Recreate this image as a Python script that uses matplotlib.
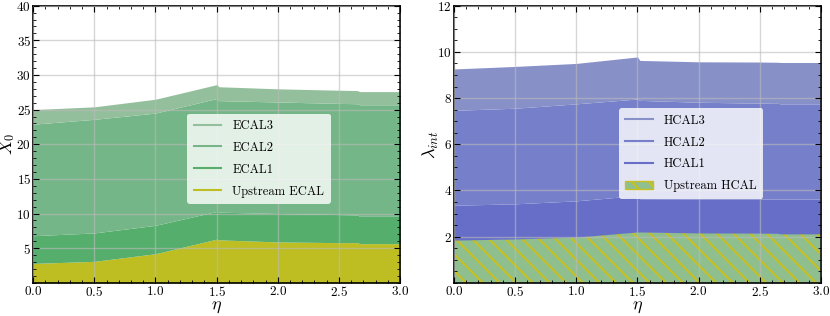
import matplotlib
matplotlib.use('Agg')
import matplotlib.pyplot as plt
from matplotlib.lines import Line2D
from matplotlib.patches import Patch
from matplotlib.ticker import MultipleLocator

plt.rcParams['font.family'] = 'serif'
plt.rcParams['font.serif'] = ['cmr10']
plt.rcParams['mathtext.fontset'] = 'cm'
plt.rcParams['axes.formatter.use_mathtext'] = True
plt.rcParams['hatch.linewidth'] = 1.5

# eta points
eta = [0.0, 0.5, 1.0, 1.5, 1.52, 2.0, 2.5, 2.65, 2.67, 3.0]

# ECAL, cumulative X0 (top of each layer)
upstream_ecal = [2.8, 3.1, 4.2, 6.3, 6.2, 5.9, 5.8, 5.8, 5.65, 5.65]
ecal1 = [6.8, 7.2, 8.3, 10.3, 10.2, 10.0, 9.85, 9.8, 9.6, 9.6]
ecal2 = [22.9, 23.6, 24.5, 26.6, 26.3, 26.1, 25.9, 25.85, 25.7, 25.7]
ecal3 = [25.0, 25.4, 26.5, 28.6, 28.3, 28.0, 27.8, 27.75, 27.6, 27.6]

# HCAL, cumulative lambda_int
upstream_hcal = [1.85, 1.9, 1.98, 2.2, 2.2, 2.16, 2.15, 2.14, 2.12, 2.12]
hcal1 = [3.36, 3.42, 3.55, 3.78, 3.64, 3.63, 3.63, 3.63, 3.63, 3.63]
hcal2 = [7.47, 7.56, 7.75, 7.96, 7.9, 7.82, 7.78, 7.77, 7.75, 7.75]
hcal3 = [9.26, 9.37, 9.5, 9.78, 9.63, 9.57, 9.56, 9.55, 9.54, 9.54]

c_up_ecal = '#bebe22'
c_ecal = ['#55ae6c', '#75b688', '#94bf9c']
c_hcal = ['#666ec8', '#7680ca', '#8890c8']
c_up_hcal = '#8fbf8f'

fig = plt.figure(figsize=(8.3, 3.16), dpi=100)
ax1 = fig.add_axes([0.040, 0.105, 0.442, 0.877])
ax2 = fig.add_axes([0.547, 0.105, 0.442, 0.877])

leg_kw = dict(loc='center left', fontsize=9, framealpha=0.8, edgecolor='none',
              fancybox=True, labelspacing=0.78, handlelength=2.2,
              handletextpad=0.9, borderpad=0.5, borderaxespad=0)

# left: ECAL
ax1.fill_between(eta, 0, upstream_ecal, color=c_up_ecal, lw=0)
ax1.fill_between(eta, upstream_ecal, ecal1, color=c_ecal[0], lw=0)
ax1.fill_between(eta, ecal1, ecal2, color=c_ecal[1], lw=0)
ax1.fill_between(eta, ecal2, ecal3, color=c_ecal[2], lw=0)
ax1.set_xlim(0, 3)
ax1.set_ylim(0, 40)
ax1.set_yticks([5, 10, 15, 20, 25, 30, 35, 40])
ax1.yaxis.set_minor_locator(MultipleLocator(1))
ax1.set_ylabel(r'$X_0$', fontsize=12.5)
ax1.yaxis.set_label_coords(-0.043, 0.5)
handles1 = [Line2D([], [], color=c_ecal[2], lw=1.5, label='ECAL3'),
            Line2D([], [], color=c_ecal[1], lw=1.5, label='ECAL2'),
            Line2D([], [], color=c_ecal[0], lw=1.5, label='ECAL1'),
            Line2D([], [], color=c_up_ecal, lw=1.5, label='Upstream ECAL')]
ax1.legend(handles=handles1, bbox_to_anchor=(0.42, 0.448), **leg_kw)

# right: HCAL
ax2.fill_between(eta, 0, upstream_hcal, facecolor=c_up_hcal, edgecolor='#c8c020',
                 hatch='\\\\', lw=0)
ax2.fill_between(eta, upstream_hcal, hcal1, color=c_hcal[0], lw=0)
ax2.fill_between(eta, hcal1, hcal2, color=c_hcal[1], lw=0)
ax2.fill_between(eta, hcal2, hcal3, color=c_hcal[2], lw=0)
ax2.set_xlim(0, 3)
ax2.set_ylim(0, 12)
ax2.set_yticks([2, 4, 6, 8, 10, 12])
ax2.yaxis.set_minor_locator(MultipleLocator(0.5))
ax2.set_ylabel(r'$\lambda_{int}$', fontsize=13)
ax2.yaxis.set_label_coords(-0.036, 0.5)
handles2 = [Line2D([], [], color=c_hcal[2], lw=1.5, label='HCAL3'),
            Line2D([], [], color=c_hcal[1], lw=1.5, label='HCAL2'),
            Line2D([], [], color=c_hcal[0], lw=1.5, label='HCAL1'),
            Patch(facecolor=c_up_hcal, edgecolor='#c8c020', hatch='\\\\',
                  label='Upstream HCAL')]
ax2.legend(handles=handles2, bbox_to_anchor=(0.45, 0.467), **leg_kw)

for ax in (ax1, ax2):
    ax.set_xticks([0.0, 0.5, 1.0, 1.5, 2.0, 2.5, 3.0])
    ax.xaxis.set_minor_locator(MultipleLocator(0.1))
    ax.set_xlabel(r'$\eta$', fontsize=13)
    ax.xaxis.set_label_coords(0.5, -0.06)
    ax.tick_params(which='both', direction='in', top=True, right=True, labelsize=9.5)
    ax.tick_params(which='major', length=4, pad=1.5)
    ax.tick_params(which='minor', length=2)
    ax.set_axisbelow(False)
    ax.grid(True, color='#bbbbbb', lw=1, alpha=0.6)
    for s in ax.spines.values():
        s.set_linewidth(1.2)

fig.savefig('out.png', dpi=100)
